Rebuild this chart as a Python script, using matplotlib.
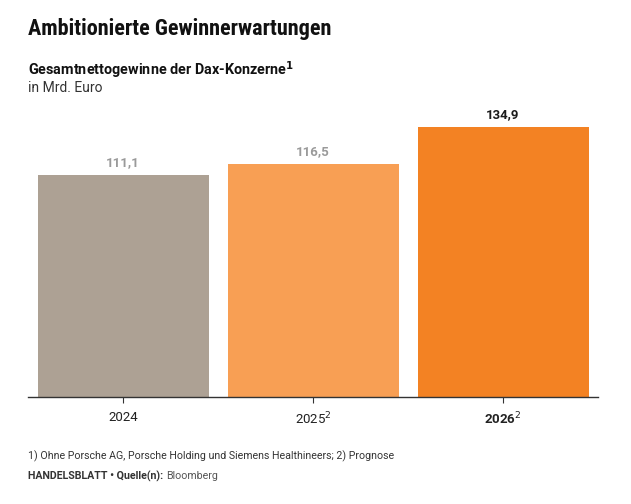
import matplotlib
matplotlib.use('Agg')
import matplotlib.pyplot as plt

plt.rcParams['font.family'] = ['Roboto', 'DejaVu Sans']

# data
years = ['2024', '2025', '2026']
tick_labels = ['2024', '2025$^2$', '2026$^2$']
profits = [111.1, 116.5, 134.9]
labels = ['111,1', '116,5', '134,9']
colors = ['#ada194', '#f89f54', '#f38223']
label_colors = ['#9a9a9a', '#9a9a9a', '#1a1a1a']

fig = plt.figure(figsize=(6.31, 5.04), dpi=100)
W, H = 631, 504
ax = fig.add_axes([28 / W, (H - 397) / H, 570 / W, 300 / H])

x = range(len(years))
ax.bar(x, profits, width=0.9, color=colors, zorder=2)
for i, (v, lab) in enumerate(zip(profits, labels)):
    ax.text(i, v + 3, lab, ha='center', va='bottom', fontsize=9.5,
            fontweight='bold', color=label_colors[i])

ax.set_xlim(-0.5, 2.5)
ax.set_ylim(0, 150)
ax.set_yticks([])
ax.set_xticks(list(x))
ax.set_xticklabels(tick_labels, fontsize=9.5, color='#222222')
ax.get_xticklabels()[2].set_fontweight('bold')
ax.tick_params(axis='x', length=4, width=0.8, color='#333333', pad=6)
for s in ['top', 'right', 'left']:
    ax.spines[s].set_visible(False)
ax.spines['bottom'].set_color('#333333')
ax.spines['bottom'].set_linewidth(1.0)

# headings
fig.text(28 / W, 1 - 29 / H, 'Ambitionierte Gewinnerwartungen', fontsize=16,
         fontweight='bold', fontstretch='condensed',
         family=['Roboto Condensed', 'Liberation Sans Narrow',
                 'DejaVu Sans Condensed', 'Roboto'],
         va='center', ha='left', color='#111111')
fig.text(28 / W, 1 - 70 / H, 'Gesamtnettogewinne der Dax-Konzerne$^\\mathbf{1}$',
         fontsize=10.4, fontweight='bold', va='center', ha='left', color='#111111')
fig.text(28 / W, 1 - 88 / H, 'in Mrd. Euro', fontsize=10, va='center',
         ha='left', color='#333333')

# footer
fig.text(28 / W, 1 - 456 / H,
         '1) Ohne Porsche AG, Porsche Holding und Siemens Healthineers; 2) Prognose',
         fontsize=7.7, va='center', ha='left', color='#333333')
t = fig.text(28 / W, 1 - 476 / H, 'HANDELSBLATT • Quelle(n):', fontsize=7.7,
             fontweight='bold', va='center', ha='left', color='#333333')
fig.canvas.draw()
bb = t.get_window_extent()
fig.text((bb.x1 + 3) / W, 1 - 476 / H, 'Bloomberg', fontsize=7.7,
         va='center', ha='left', color='#555555')

fig.savefig('out.png', dpi=100)
